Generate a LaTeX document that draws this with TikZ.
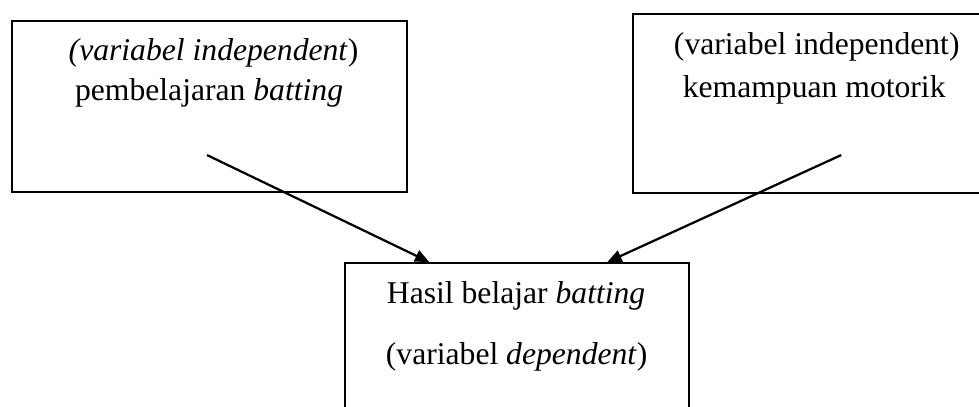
\documentclass[tikz,border=0pt]{standalone}
\usepackage{fontspec}
\setmainfont{Liberation Serif}
\usetikzlibrary{arrows.meta}

\begin{document}
\begin{tikzpicture}[
    kotak/.style={rectangle, draw, line width=0.6pt, inner sep=0pt},
    teks/.style={anchor=base, inner sep=0pt, font=\fontsize{12}{14}\selectfont},
    panah/.style={line width=0.85pt, -{Triangle[length=1.9mm, width=1.6mm]}}
]
\useasboundingbox (0,0) rectangle (13.05,-5.413);
\clip (0,0) rectangle (13.05,-5.413);

% ----- kotak atas -----
\node[kotak, minimum width=5.267cm, minimum height=2.28cm] (bebas1) at (2.793,-1.42) {};
\node[kotak, minimum width=4.853cm, minimum height=2.387cm] (bebas2) at (10.867,-1.38) {};

% ----- kotak bawah -----
\node[kotak, anchor=north, minimum width=4.587cm, minimum height=2.6cm] (terikat) at (6.893,-3.493) {};

% ----- teks -----
\node[teks] (bebas1a) at (2.847,-0.813) {\textit{(variabel independent})};
\node[teks] (bebas1b) at (2.787,-1.333) {pembelajaran \textit{batting}};
\node[teks] (bebas2a) at (10.887,-0.733) {(variabel independent)};
\node[teks] (bebas2b) at (10.853,-1.293) {kemampuan motorik};
\node[teks] (terikata) at (6.88,-4.04) {Hasil belajar \textit{batting}};
\node[teks] (terikatb) at (6.887,-4.853) {(variabel \textit{dependent})};

% ----- panah -----
\coordinate (p1) at (2.76,-2.067);
\coordinate (p2) at (11.213,-2.067);

\draw[panah] (p1) -- ([xshift=1.133cm]terikat.north west);
\draw[panah] (p2) -- ([xshift=3.507cm]terikat.north west);

\end{tikzpicture}
\end{document}
